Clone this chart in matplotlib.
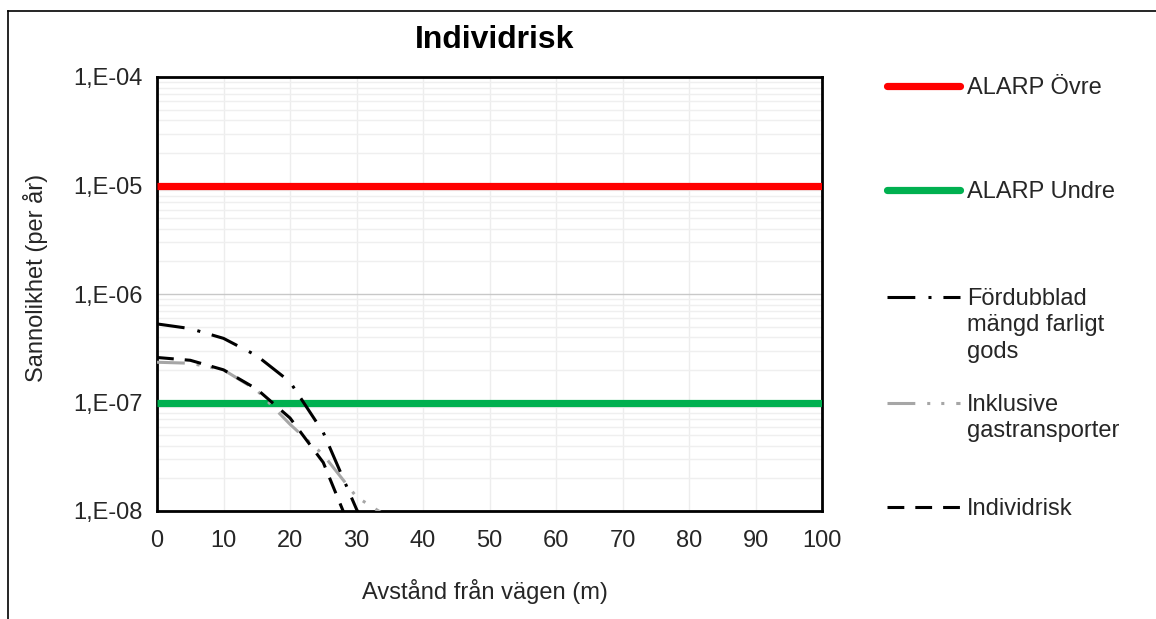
import numpy as np
import matplotlib
matplotlib.use("Agg")
import matplotlib.pyplot as plt
from matplotlib.lines import Line2D
from matplotlib.ticker import FixedLocator, FuncFormatter, LogLocator, NullFormatter

plt.rcParams['font.family'] = ['Liberation Sans', 'DejaVu Sans']

# ---- data ----
distance = [0, 5, 10, 15, 20, 25, 30, 35]
fordubblad = [5.3e-7, 4.8e-7, 3.9e-7, 2.7e-7, 1.55e-7, 5.3e-8, 1.04e-8, 2.5e-9]
inklusive = [2.35e-7, 2.3e-7, 2.0e-7, 1.3e-7, 6.3e-8, 3.3e-8, 1.35e-8, 8.6e-9]
individrisk = [2.6e-7, 2.45e-7, 2.0e-7, 1.33e-7, 7.2e-8, 2.8e-8, 5e-9, 1e-9]
alarp_x = [0, 100]
alarp_ovre = [1e-5, 1e-5]
alarp_undre = [1e-7, 1e-7]

series_labels = ["ALARP Övre", "ALARP Undre", "Fördubblad\nmängd farligt\ngods",
                 "Inklusive\ngastransporter", "Individrisk"]

W, H = 1156, 619
fig = plt.figure(figsize=(W / 100, H / 100), dpi=100)

def fx(px):
    return px / W

def fy(py):
    return 1 - py / H

ax_l, ax_r, ax_t, ax_b = 157, 822, 77, 511
ax = fig.add_axes([fx(ax_l), fy(ax_b), fx(ax_r - ax_l), (ax_b - ax_t) / H])

lw = 2.2
styles = {
    "ovre": dict(color="#FF0000", lw=5.2, solid_capstyle="butt"),
    "undre": dict(color="#00B050", lw=5.2, solid_capstyle="butt"),
    "ford": dict(color="black", lw=lw, linestyle=(0, (9.1, 4.3, 1.0, 3.9))),
    "inkl": dict(color="#A6A6A6", lw=lw, linestyle=(0, (9.1, 3.9, 1.0, 3.6, 1.0, 3.9))),
    "indiv": dict(color="black", lw=lw, linestyle=(0, (5.5, 3.6))),
}

ax.plot(alarp_x, alarp_ovre, **styles["ovre"], zorder=3)
ax.plot(alarp_x, alarp_undre, **styles["undre"], zorder=3)
ax.plot(distance, inklusive, **styles["inkl"], zorder=4)
ax.plot(distance, fordubblad, **styles["ford"], zorder=5)
ax.plot(distance, individrisk, **styles["indiv"], zorder=5)

ax.set_yscale("log")
ax.set_ylim(1e-8, 1e-4)
ax.set_xlim(0, 100)
ax.xaxis.set_major_locator(FixedLocator(np.arange(0, 101, 10)))
ax.yaxis.set_major_locator(FixedLocator([1e-8, 1e-7, 1e-6, 1e-5, 1e-4]))
ax.yaxis.set_minor_locator(LogLocator(base=10, subs=np.arange(2, 10)))
ax.yaxis.set_minor_formatter(NullFormatter())
ax.yaxis.set_major_formatter(FuncFormatter(lambda v, p: "1,E%03d" % int(round(np.log10(v)))))

ax.grid(True, which="major", axis="y", color="#C8C8C8", lw=1.0, zorder=0)
ax.grid(True, which="minor", axis="y", color="#EFEFEF", lw=1.0, zorder=0)
ax.grid(True, which="major", axis="x", color="#EDEDED", lw=1.0, zorder=0)
ax.set_axisbelow(True)

for s in ax.spines.values():
    s.set_linewidth(2.0)
    s.set_color("black")
ax.tick_params(axis="both", which="both", length=0, labelsize=17, colors="#262626")
ax.tick_params(axis="y", pad=10)
ax.tick_params(axis="x", pad=13.5)

fig.text(fx(495), fy(40), "Individrisk", ha="center", va="center",
         fontsize=23, fontweight="bold", color="black")
fig.text(fx(485), fy(591), "Avstånd från vägen (m)", ha="center", va="center",
         fontsize=17, color="#262626")
fig.text(fx(36), fy(278), "Sannolikhet (per år)", ha="center", va="center",
         rotation=90, fontsize=17, color="#262626")

# legend (manual, Excel-style: handle aligned to first text line)
leg_keys = ["ovre", "undre", "ford", "inkl", "indiv"]
leg_y = [86, 190, 297, 403, 507]
for key, y, lab in zip(leg_keys, leg_y, series_labels):
    st = dict(styles[key])
    if key in ("ovre", "undre"):
        st["solid_capstyle"] = "round"
    fig.add_artist(Line2D([fx(887), fx(960)], [fy(y), fy(y)], transform=fig.transFigure, **st))
    fig.text(fx(967), fy(y - 9), lab, ha="left", va="top", fontsize=17,
             color="#262626", linespacing=1.26)

# outer chart border (partially visible)
fig.add_artist(Line2D([fx(8), 1.0], [fy(11), fy(11)], transform=fig.transFigure, color="black", lw=1.2))
fig.add_artist(Line2D([fx(8), fx(8)], [fy(11), 0.0], transform=fig.transFigure, color="black", lw=1.2))

fig.savefig("out.png", dpi=100, facecolor="white")
